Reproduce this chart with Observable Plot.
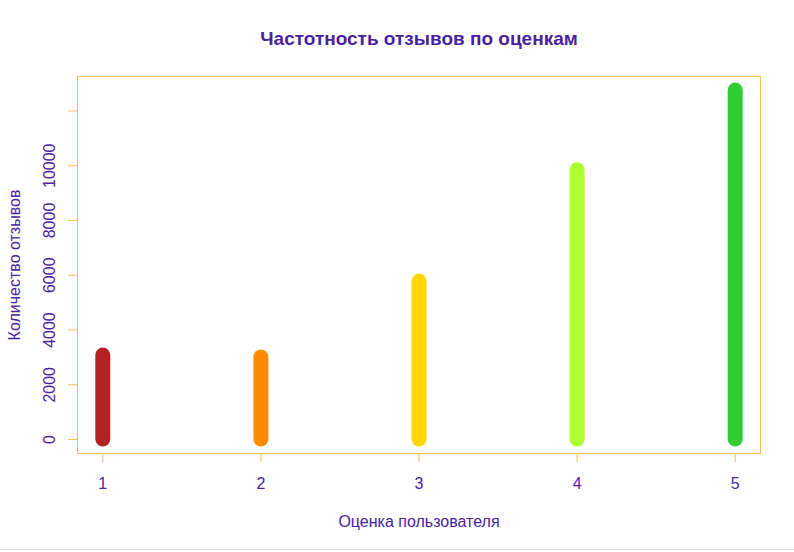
<!DOCTYPE html>
<html>
<head>
<meta charset="utf-8">
<script src="https://cdn.jsdelivr.net/npm/d3@7"></script>
<script src="https://cdn.jsdelivr.net/npm/@observablehq/plot@0.6"></script>
<style>
  html, body { margin: 0; padding: 0; background: #fff; }
  #wrap { width: 794px; height: 549px; border-bottom: 1px solid #dcdcdc; overflow: hidden; }
  svg { display: block; }
</style>
</head>
<body>
<div id="wrap"></div>
<script>
const ratings = [1, 2, 3, 4, 5];
const counts = [3070, 3000, 5770, 9840, 12750];
const barColors = ["#B22222", "#FF8C00", "#FFD700", "#ADFF2F", "#32CD32"];
const yTicks = [0, 2000, 4000, 6000, 8000, 10000, 12000];
const yTickLabels = ["0", "2000", "4000", "6000", "8000", "10000", ""];
const xTicks = [1, 2, 3, 4, 5];
const xTickLabels = ["1", "2", "3", "4", "5"];
const titleText = "Частотность отзывов по оценкам";
const xLabel = "Оценка пользователя";
const yLabel = "Количество отзывов";

const textColor = "#4A22A0";
const axisColor = "#F9BE4A";
const font = "Liberation Sans, Arial, sans-serif";

const data = ratings.map((r, i) => ({rating: r, count: counts[i]}));
const yT = yTicks.map((v, i) => ({v, label: yTickLabels[i]}));
const xT = xTicks.map((v, i) => ({v, label: xTickLabels[i]}));

const xmin = d3.min(ratings), xmax = d3.max(ratings);
const xpad = (xmax - xmin) * 0.04;
const ymax = d3.max(counts);
const ypad = ymax * 0.04;

const chart = Plot.plot({
  width: 794,
  height: 549,
  marginLeft: 77,
  marginRight: 34,
  marginTop: 76,
  marginBottom: 96,
  style: {fontFamily: font, background: "#fff"},
  x: {domain: [xmin - xpad, xmax + xpad], axis: null},
  y: {domain: [-ypad, ymax + ypad], axis: null},
  color: {type: "ordinal", domain: ratings, range: barColors},
  marks: [
    Plot.ruleX(data, {x: "rating", y1: 0, y2: "count", stroke: "rating", strokeWidth: 15, strokeLinecap: "round"}),
    Plot.frame({stroke: axisColor, strokeWidth: 1}),
    Plot.axisY(yTicks, {tickSize: 9, stroke: axisColor, tickFormat: () => "", label: null}),
    Plot.axisX(xTicks, {tickSize: 9, stroke: axisColor, tickFormat: () => "", label: null}),
    Plot.text(yT, {y: "v", text: "label", frameAnchor: "left", dx: -28, rotate: -90, fill: textColor, fontSize: 16, textAnchor: "middle", lineAnchor: "middle"}),
    Plot.text(xT, {x: "v", text: "label", frameAnchor: "bottom", dy: 30, fill: textColor, fontSize: 16, textAnchor: "middle", lineAnchor: "middle"}),
    Plot.text([xLabel], {text: d => d, frameAnchor: "bottom", dy: 68, fill: textColor, fontSize: 16, textAnchor: "middle", lineAnchor: "middle"}),
    Plot.text([yLabel], {text: d => d, frameAnchor: "left", dx: -63, rotate: -90, fill: textColor, fontSize: 16, textAnchor: "middle", lineAnchor: "middle"}),
    Plot.text([titleText], {text: d => d, frameAnchor: "top", dy: -38, fill: textColor, fontSize: 19, fontWeight: "bold", textAnchor: "middle", lineAnchor: "middle"})
  ]
});
document.getElementById("wrap").appendChild(chart);
</script>
</body>
</html>
